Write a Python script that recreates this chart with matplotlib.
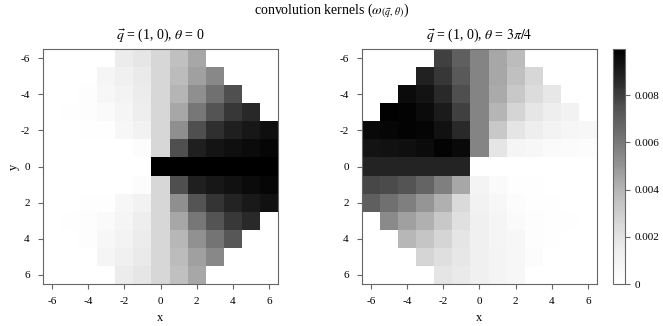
import numpy as np
import matplotlib
matplotlib.use("Agg")
import matplotlib.pyplot as plt

# kernel weights in units of 1e-3 (nan = outside disc)
n = np.nan
KERNEL_LEFT = [
    [n, n, n, n, 1.46, 1.78, 2.53, 3.60, 4.40, n, n, n, n],
    [n, n, n, 0.83, 1.24, 1.57, 2.53, 3.76, 4.66, 5.47, n, n, n],
    [n, n, 0.17, 0.66, 1.00, 1.46, 2.53, 3.99, 5.19, 6.33, 7.52, n, n],
    [n, 0.08, 0.17, 0.41, 0.83, 1.35, 2.53, 4.40, 6.04, 7.35, 8.18, 8.62, n],
    [0.00, 0.02, 0.05, 0.10, 0.66, 1.08, 2.53, 5.19, 7.52, 8.40, 8.87, 9.14, 9.41],
    [0.00, 0.00, 0.00, 0.00, 0.00, 0.25, 2.53, 7.52, 8.87, 9.24, 9.41, 9.55, 9.68],
    [0.00, 0.00, 0.00, 0.00, 0.00, 0.00, 9.95, 9.95, 9.95, 9.95, 9.95, 9.95, 9.95],
    [0.00, 0.00, 0.00, 0.00, 0.00, 0.25, 2.53, 7.52, 8.87, 9.14, 9.34, 9.55, 9.68],
    [0.00, 0.02, 0.05, 0.10, 0.66, 1.08, 2.53, 5.19, 7.35, 8.26, 8.71, 9.07, 9.34],
    [n, 0.08, 0.17, 0.41, 0.83, 1.35, 2.53, 4.40, 6.04, 7.35, 8.13, 8.56, n],
    [n, n, 0.17, 0.66, 1.00, 1.46, 2.53, 3.89, 5.15, 6.15, 7.24, n, n],
    [n, n, n, 0.83, 1.24, 1.57, 2.53, 3.76, 4.66, 5.47, n, n, n],
    [n, n, n, n, 1.46, 1.78, 2.53, 3.60, 4.40, n, n, n, n],
]
KERNEL_RIGHT = [
    [n, n, n, n, 7.96, 6.93, 5.58, 4.40, 3.76, n, n, n, n],
    [n, n, n, 8.81, 8.18, 7.16, 5.58, 4.40, 3.60, 2.53, n, n, n],
    [n, n, 9.55, 9.28, 8.56, 7.52, 5.58, 4.34, 3.24, 2.33, 1.68, n, n],
    [n, 9.88, 9.81, 9.55, 9.01, 7.96, 5.58, 3.99, 2.67, 1.78, 1.35, 1.08, n],
    [9.61, 9.68, 9.81, 9.75, 9.34, 8.56, 5.58, 3.24, 1.84, 1.35, 1.00, 0.75, 0.66],
    [9.28, 9.34, 9.41, 9.55, 9.81, 9.61, 5.58, 1.84, 0.83, 0.66, 0.41, 0.33, 0.25],
    [8.71, 8.71, 8.71, 8.71, 8.71, 8.71, 0.00, 0.00, 0.00, 0.00, 0.00, 0.00, 0.00],
    [7.74, 7.63, 7.35, 6.75, 5.76, 4.40, 0.90, 0.41, 0.08, 0.05, 0.03, 0.02, 0.01],
    [6.93, 6.33, 5.76, 5.01, 4.15, 2.44, 1.08, 0.66, 0.25, 0.10, 0.05, 0.03, 0.02],
    [n, 5.40, 4.66, 4.15, 3.24, 2.11, 1.24, 0.83, 0.41, 0.15, 0.08, 0.05, n],
    [n, n, 3.89, 3.38, 2.67, 1.84, 1.24, 0.83, 0.66, 0.17, 0.08, n, n],
    [n, n, n, 2.67, 2.17, 1.68, 1.24, 0.92, 0.66, 0.25, n, n, n],
    [n, n, n, n, 1.84, 1.57, 1.24, 0.92, 0.66, n, n, n, n],
]
TITLES = [r"$\vec{q}$ = (1, 0), $\theta$ = 0",
          r"$\vec{q}$ = (1, 0), $\theta$ = $3\pi/4$"]
TICK_POS = [0, 2, 4, 6, 8, 10, 12]
TICK_LABELS = ["-6", "-4", "-2", "0", "2", "4", "6"]
CBAR_TICKS = [0, 0.002, 0.004, 0.006, 0.008]
CBAR_LABELS = ["0", "0.002", "0.004", "0.006", "0.008"]
VMAX = 0.00995

plt.rcParams["font.family"] = ["Liberation Serif", "DejaVu Serif"]
plt.rcParams["mathtext.fontset"] = "stix"

fig = plt.figure(figsize=(6.63, 3.26), dpi=100)
cmap = plt.get_cmap("Greys").copy()
cmap.set_bad("white")

axes = [fig.add_axes([0.0649, 0.1288, 0.3544, 0.7209]),
        fig.add_axes([0.5460, 0.1288, 0.3544, 0.7209])]
edge = "#666666"
for ax, data, title in zip(axes, [KERNEL_LEFT, KERNEL_RIGHT], TITLES):
    im = ax.imshow(np.array(data) * 1e-3, cmap=cmap, vmin=0, vmax=VMAX,
                   interpolation="nearest")
    ax.set_title(title, fontsize=10, pad=7)
    ax.set_xticks(TICK_POS)
    ax.set_xticklabels(TICK_LABELS)
    ax.set_yticks(TICK_POS)
    ax.set_yticklabels(TICK_LABELS)
    ax.tick_params(labelsize=8, color=edge, length=3.5)
    ax.tick_params(axis="x", pad=6)
    ax.tick_params(axis="y", pad=6)
    for s in ax.spines.values():
        s.set_color(edge)
    ax.set_xlabel("x", fontsize=9)

axes[0].set_ylabel("y", fontsize=9)
axes[0].yaxis.set_label_coords(-0.1, 0.5)

cax = fig.add_axes([0.9246, 0.1288, 0.0181, 0.7209])
cb = fig.colorbar(im, cax=cax, ticks=CBAR_TICKS)
cb.ax.tick_params(labelsize=8, color=edge, length=3.5)
cb.ax.set_yticklabels(CBAR_LABELS)
cb.outline.set_edgecolor(edge)

fig.suptitle(r"convolution kernels ($\omega_{(\vec{q},\,\theta)}$)",
             fontsize=10, y=0.997)

fig.savefig("out.png", dpi=100)
